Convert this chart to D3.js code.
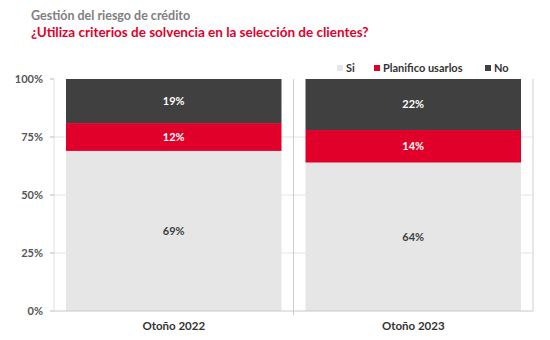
<!DOCTYPE html>
<html>
<head>
<meta charset="utf-8">
<script src="https://cdn.jsdelivr.net/npm/d3@7"></script>
<style>
  body { margin: 0; background: #fff; }
  text { font-family: Lato, "Open Sans", sans-serif; }
</style>
</head>
<body>
<div id="chart"></div>
<script>
// data
var categories = ["Otoño 2022", "Otoño 2023"];
var seriesNames = ["Si", "Planifico usarlos", "No"];
var si = [69, 64];
var planifico = [12, 14];
var no = [19, 22];
var yTicks = [0, 25, 50, 75, 100];

var colors = ["#e6e6e6", "#e0002a", "#404040"];
var labelColors = ["#404040", "#ffffff", "#ffffff"];

var width = 550, height = 340;
var margin = {top: 79, right: 17, bottom: 29, left: 54};
var w = width - margin.left - margin.right;
var h = height - margin.top - margin.bottom;

var svg = d3.select("#chart")
  .append("svg")
    .attr("width", width)
    .attr("height", height);

// titles
svg.append("text")
  .attr("x", 31).attr("y", 20)
  .style("font-size", "12.5px").style("font-weight", "bold")
  .style("fill", "#808080")
  .text("Gestión del riesgo de crédito");
svg.append("text")
  .attr("x", 31).attr("y", 37)
  .style("font-size", "13.5px").style("font-weight", "bold")
  .style("fill", "#e0002a")
  .text("¿Utiliza criterios de solvencia en la selección de clientes?");

var g = svg.append("g")
  .attr("transform", "translate(" + margin.left + "," + margin.top + ")");

var data = categories.map(function(c, i) {
  return {cat: c, "Si": si[i], "Planifico usarlos": planifico[i], "No": no[i]};
});

var x = d3.scaleBand()
  .domain(categories)
  .range([0, w]);

var y = d3.scaleLinear()
  .domain([0, 100])
  .range([h, 0]);

// gridlines
g.append("g")
  .selectAll("line")
  .data(yTicks.filter(function(d) { return d > 0 && d < 100; }))
  .enter().append("line")
    .attr("x1", 0).attr("x2", w)
    .attr("y1", function(d) { return y(d); })
    .attr("y2", function(d) { return y(d); })
    .style("stroke", "#e4e4e4");

// frame lines
g.append("line").attr("x1", 0).attr("x2", 0).attr("y1", 0).attr("y2", h).style("stroke", "#e0e0e0");
g.append("line").attr("x1", w).attr("x2", w).attr("y1", 0).attr("y2", h).style("stroke", "#d0d0d0");
g.append("line").attr("x1", x.bandwidth()).attr("x2", x.bandwidth()).attr("y1", 0).attr("y2", h + 4).style("stroke", "#cccccc");

// y axis ticks + labels
var yAxis = g.append("g");
yAxis.selectAll("line")
  .data(yTicks)
  .enter().append("line")
    .attr("x1", -4).attr("x2", 0)
    .attr("y1", function(d) { return y(d); })
    .attr("y2", function(d) { return y(d); })
    .style("stroke", "#bbbbbb");
yAxis.selectAll("text")
  .data(yTicks)
  .enter().append("text")
    .attr("x", -11)
    .attr("y", function(d) { return y(d); })
    .attr("dy", "0.35em")
    .attr("text-anchor", "end")
    .style("font-size", "11px").style("font-weight", "bold")
    .style("fill", "#555")
    .text(function(d) { return d + "%"; });

var stackedData = d3.stack().keys(seriesNames)(data);

var inset = 12;
var bars = g.append("g")
  .selectAll("g")
  .data(stackedData)
  .enter().append("g")
    .attr("fill", function(d, i) { return colors[i]; });

bars.selectAll("rect")
  .data(function(d) { return d; })
  .enter().append("rect")
    .attr("x", function(d) { return x(d.data.cat) + inset; })
    .attr("y", function(d) { return y(d[1]); })
    .attr("height", function(d) { return y(d[0]) - y(d[1]); })
    .attr("width", x.bandwidth() - 2 * inset);

// value labels
stackedData.forEach(function(s, i) {
  g.append("g").selectAll("text")
    .data(s)
    .enter().append("text")
      .attr("x", function(d) { return x(d.data.cat) + x.bandwidth() / 2; })
      .attr("y", function(d) { return y((d[0] + d[1]) / 2); })
      .attr("dy", "0.35em")
      .attr("text-anchor", "middle")
      .style("font-size", "11px").style("font-weight", "bold")
      .style("fill", labelColors[i])
      .text(function(d) { return (d[1] - d[0]) + "%"; });
});

// x axis
g.append("line").attr("x1", 0).attr("x2", w).attr("y1", h).attr("y2", h).style("stroke", "#c8c8c8");
g.append("g").selectAll("text")
  .data(categories)
  .enter().append("text")
    .attr("x", function(d) { return x(d) + x.bandwidth() / 2; })
    .attr("y", h + 19)
    .attr("text-anchor", "middle")
    .style("font-size", "11.5px").style("font-weight", "bold")
    .style("fill", "#333")
    .text(function(d) { return d; });

// Handmade legend
var legendX = [337, 374, 485];
seriesNames.forEach(function(n, i) {
  svg.append("rect").attr("x", legendX[i]).attr("y", 65).attr("width", 6).attr("height", 6).style("fill", colors[i]);
  svg.append("text").attr("x", legendX[i] + 9).attr("y", 68).attr("dy", "0.35em")
    .style("font-size", "11px").style("font-weight", "bold").style("fill", "#333")
    .text(n);
});
</script>
</body>
</html>
